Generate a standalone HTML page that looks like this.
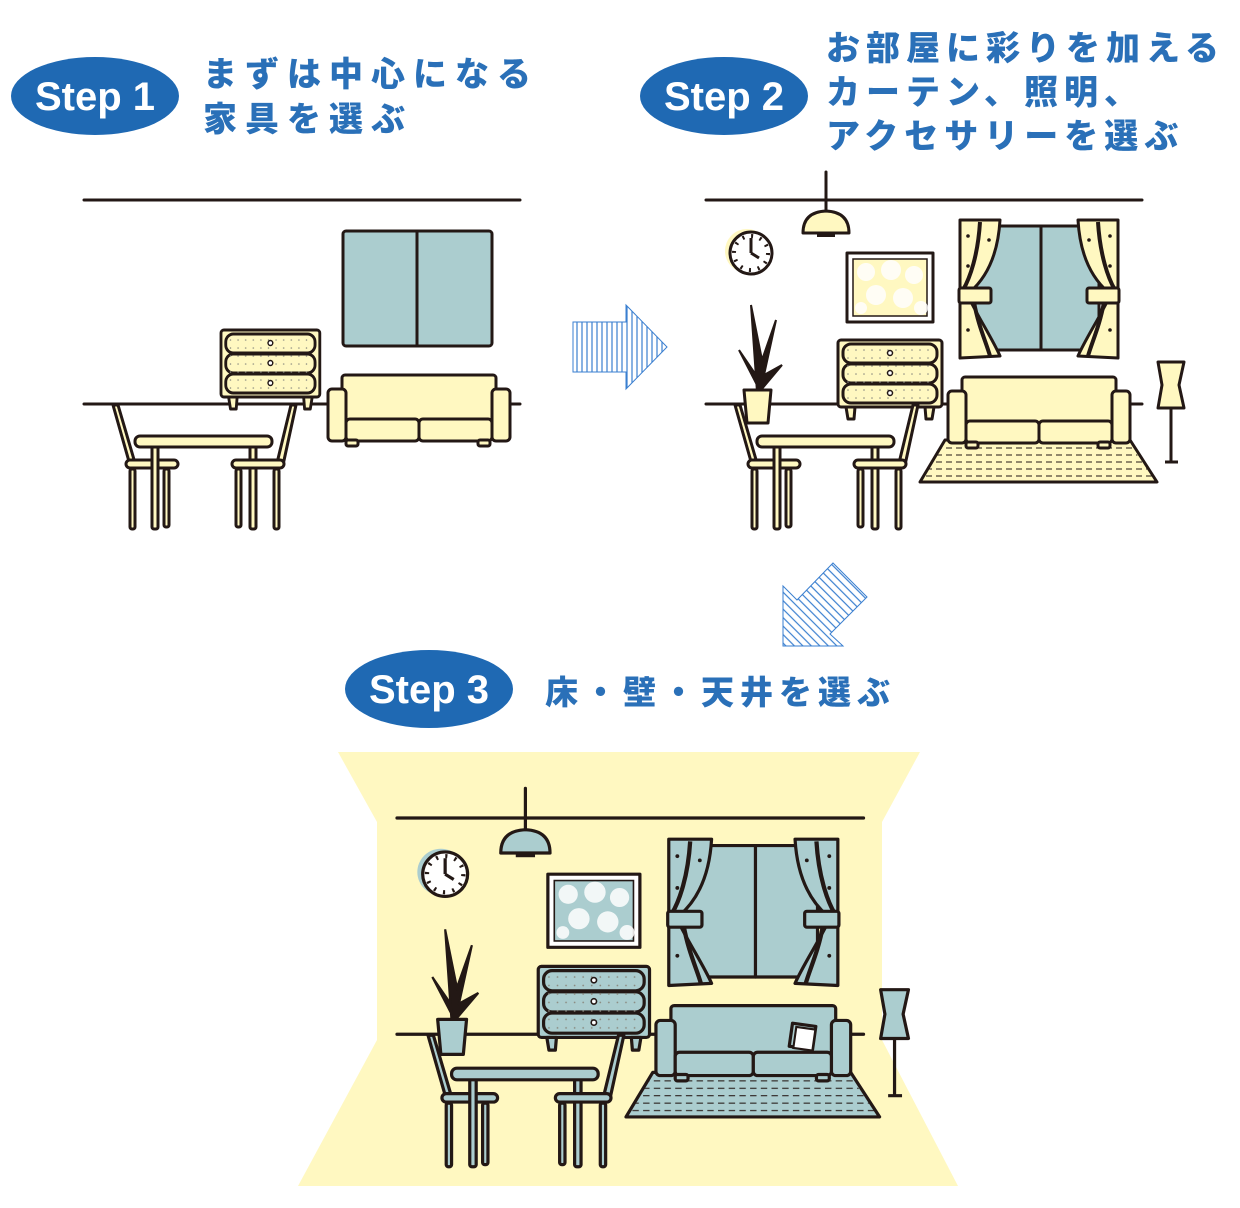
<!DOCTYPE html>
<html><head><meta charset="utf-8"><style>
html,body{margin:0;padding:0;background:#fff;}
svg{display:block;}
.s{stroke:#231815;stroke-width:3;stroke-linejoin:round;stroke-linecap:round;fill:var(--acc);}
.blu{fill:#abcdcf;}
.t{font-family:"Liberation Sans","Noto Sans CJK JP",sans-serif;font-weight:900;fill:#2a70b8;}
.st{font-family:"Liberation Sans","Noto Sans CJK JP",sans-serif;font-weight:700;fill:#fff;}
</style></head><body>
<svg width="1240" height="1208" viewBox="0 0 1240 1208" xmlns="http://www.w3.org/2000/svg">
<defs>
<pattern id="vs" width="5" height="10" patternUnits="userSpaceOnUse"><rect width="5" height="10" fill="#fff"/><line x1="2" y1="0" x2="2" y2="10" stroke="#3a7fd0" stroke-width="1.2"/></pattern>
<pattern id="ds" width="6" height="6" patternUnits="userSpaceOnUse" patternTransform="rotate(45)"><rect width="6" height="6" fill="#fff"/><line x1="0" y1="3" x2="6" y2="3" stroke="#3a7fd0" stroke-width="1.2"/></pattern>
<pattern id="rugp" width="10" height="7" patternUnits="userSpaceOnUse"><line x1="0" y1="3" x2="6" y2="3" stroke="#231815" stroke-width="1"/></pattern>
<pattern id="dots" width="8" height="8" patternUnits="userSpaceOnUse"><circle cx="2" cy="2" r="0.8" fill="#8a8a80"/></pattern>

<g id="dresser">
 <rect class="s" x="0" y="0" width="104" height="67" rx="3"/>
 <rect class="s" x="5" y="4" width="94" height="19" rx="8"/>
 <rect class="s" x="5" y="24" width="94" height="19" rx="8"/>
 <rect class="s" x="5" y="44" width="94" height="19" rx="8"/>
 <rect x="8" y="6" width="88" height="55" fill="url(#dots)"/>
 <circle cx="52" cy="13" r="2.5" fill="#fff" stroke="#231815" stroke-width="1.5"/>
 <circle cx="52" cy="33" r="2.5" fill="#fff" stroke="#231815" stroke-width="1.5"/>
 <circle cx="52" cy="53" r="2.5" fill="#fff" stroke="#231815" stroke-width="1.5"/>
 <path class="s" d="M8,67 L10,79 L16,79 L17,67 Z M87,67 L88,79 L94,79 L96,67 Z"/>
</g>
<g id="sofa">
 <rect class="s" x="14" y="0" width="154" height="46" rx="3"/>
 <rect class="s" x="0" y="14" width="18" height="52" rx="4"/>
 <rect class="s" x="164" y="14" width="18" height="52" rx="4"/>
 <rect class="s" x="18" y="44" width="73" height="22" rx="4"/>
 <rect class="s" x="91" y="44" width="73" height="22" rx="4"/>
 <rect class="s" x="18" y="65" width="12" height="6" rx="2"/>
 <rect class="s" x="150" y="65" width="12" height="6" rx="2"/>
</g>
<g id="dining">
 <path class="s" d="M29,205 L34,205 L51,263 L46,265 Z"/>
 <rect class="s" x="46" y="269" width="5" height="60" rx="2"/>
 <rect class="s" x="80" y="269" width="5" height="58" rx="2"/>
 <rect class="s" x="42" y="260" width="52" height="8" rx="4"/>
 <rect class="s" x="68" y="246" width="6" height="83" rx="2"/>
 <rect class="s" x="166" y="246" width="6" height="83" rx="2"/>
 <rect class="s" x="51" y="236" width="137" height="11" rx="5"/>
 <path class="s" d="M207,205 L212,205 L199,265 L193,263 Z"/>
 <rect class="s" x="152" y="269" width="5" height="58" rx="2"/>
 <rect class="s" x="190" y="269" width="5" height="60" rx="2"/>
 <rect class="s" x="148" y="260" width="52" height="8" rx="4"/>
</g>
<g id="curtain">
 <path class="s" d="M254,20 L294,20 C292,55 280,78 264,92 L264,100 C274,120 287,140 294,156 L254,158 Z"/>
 <path d="M274,22 C272,55 264,78 257,90 M268,102 C272,125 280,142 284,156" fill="none" stroke="#231815" stroke-width="4"/>
 <rect class="s" x="253" y="88" width="32" height="15" rx="2"/>
 <circle cx="262" cy="36" r="1.8" fill="#231815"/><circle cx="262" cy="66" r="1.8" fill="#231815"/><circle cx="262" cy="130" r="1.8" fill="#231815"/><circle cx="283" cy="40" r="1.8" fill="#231815"/>
</g>
<g id="room">
 <line class="s" x1="0" y1="0" x2="436" y2="0"/>
 <line class="s" x1="0" y1="204" x2="436" y2="204" stroke-width="2.5"/>
 <line class="s" x1="120" y1="-28" x2="120" y2="12" stroke-width="2.5"/>
 <path class="s" d="M97,33 Q97,12 120,11 Q143,12 143,33 Z"/>
 <rect x="111" y="33" width="18" height="4" fill="#231815"/>
 <circle cx="41" cy="51" r="22" style="fill:var(--acc)"/>
 <circle class="s" cx="45" cy="53" r="21" style="fill:#fff"/>
 <circle cx="45" cy="53" r="17" fill="none" stroke="#231815" stroke-width="4" stroke-dasharray="2 6.9"/>
 <path d="M45,53 L45,38 M45,53 L53,58" stroke="#231815" stroke-width="3" fill="none"/>
 <rect class="s" x="141" y="53" width="86" height="69" style="fill:#fff"/>
 <rect x="147" y="59" width="74" height="57" style="fill:var(--acc)" stroke="#231815" stroke-width="1.5"/>
 <g fill="#fff" opacity="0.85"><circle cx="160" cy="72" r="9"/><circle cx="185" cy="70" r="10"/><circle cx="208" cy="75" r="9"/><circle cx="170" cy="95" r="10"/><circle cx="197" cy="98" r="10"/><circle cx="215" cy="108" r="7"/><circle cx="155" cy="108" r="6"/></g>
 <rect class="s blu" x="268" y="26" width="125" height="124"/>
 <line class="s" x1="335" y1="26" x2="335" y2="150" stroke-width="2"/>
 <use href="#curtain"/>
 <use href="#curtain" transform="translate(666,0) scale(-1,1)"/>
 <use href="#dresser" transform="translate(132,140)"/>
 <path class="s" d="M214,282 L239,240 L424,240 L451,282 Z"/>
 <path d="M218,278 L238,244 L424,244 L447,278 Z" fill="url(#rugp)"/>
 <use href="#sofa" transform="translate(242,177)"/>
 <path class="s" d="M452,162 L478,162 L473,185 L478,208 L452,208 L456,185 Z"/>
 <path d="M465,208 L465,262 M459,262 L472,262" stroke="#231815" stroke-width="3" fill="none"/>
 <path d="M51,192 L45,105 L56,160 L70,120 L58,175 L76,165 L55,190 M51,185 L33,150 L50,175 Z" fill="#231815" stroke="#231815" stroke-width="2"/>
 <path class="s" d="M38,190 L65,190 L62,223 L41,223 Z"/>
 <use href="#dining"/>
</g>
</defs>

<!-- Step 1 -->
<ellipse cx="95" cy="96" rx="84" ry="39" fill="#1f69b3"/>
<text class="st" x="95" y="110" font-size="40" text-anchor="middle">Step 1</text>
<text class="t" x="203" y="86" font-size="34" letter-spacing="8">まずは中心になる</text>
<text class="t" x="203" y="131" font-size="34" letter-spacing="8">家具を選ぶ</text>

<!-- Step 2 -->
<ellipse cx="724" cy="96" rx="84" ry="39" fill="#1f69b3"/>
<text class="st" x="724" y="110" font-size="40" text-anchor="middle">Step 2</text>
<text class="t" x="826" y="60" font-size="34" letter-spacing="6">お部屋に彩りを加える</text>
<text class="t" x="826" y="104" font-size="34" letter-spacing="6">カーテン、照明、</text>
<text class="t" x="826" y="148" font-size="34" letter-spacing="6">アクセサリーを選ぶ</text>

<!-- Scene 1 -->
<g transform="translate(84,200)" style="--acc:#fff8c1">
 <line class="s" x1="0" y1="0" x2="436" y2="0"/>
 <line class="s" x1="0" y1="204" x2="436" y2="204" stroke-width="2.5"/>
 <rect class="s blu" x="259" y="31" width="149" height="115" rx="3"/>
 <line class="s" x1="333" y1="31" x2="333" y2="146" stroke-width="2"/>
 <use href="#dresser" transform="translate(137,130) scale(0.95,1)"/>
 <use href="#sofa" transform="translate(244,175)"/>
 <use href="#dining"/>
</g>

<!-- Arrows -->
<path d="M573,322 L626,322 L626,305 L667,347 L626,389 L626,372 L573,372 Z" fill="url(#vs)" stroke="#3a7fd0" stroke-width="1"/>
<path d="M783,586 L797,600 L833,563 L867,597 L830,634 L843,646 L783,646 Z" fill="url(#ds)" stroke="#3a7fd0" stroke-width="1"/>

<!-- Scene 2 -->
<g transform="translate(706,200)" style="--acc:#fff8c1"><use href="#room"/></g>

<!-- Step 3 -->
<ellipse cx="429" cy="689" rx="84" ry="39" fill="#1f69b3"/>
<text class="st" x="429" y="703" font-size="40" text-anchor="middle">Step 3</text>
<text class="t" x="545" y="704" font-size="33" letter-spacing="6">床・壁・天井を選ぶ</text>

<path d="M338,752 L920,752 L882,822 L882,1040 L958,1186 L298,1186 L377,1040 L377,822 Z" fill="#fff8c1"/>
<g transform="translate(397,818) scale(1.07,1.06)" style="--acc:#abcdcf"><use href="#room"/>
 <rect class="s" x="368" y="195" width="22" height="22" transform="rotate(8 379 206)"/>
 <rect x="372" y="198" width="18" height="20" fill="#fff" stroke="#231815" stroke-width="2" transform="rotate(8 379 206)"/>
</g>
</svg>
</body></html>
